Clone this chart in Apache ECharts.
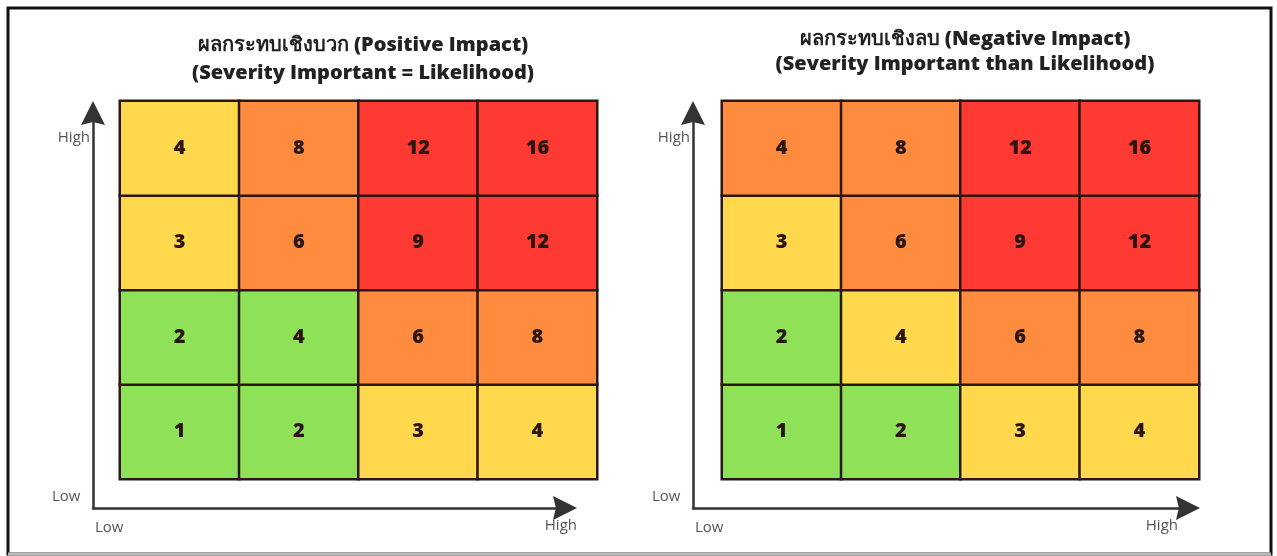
<!DOCTYPE html>
<html>
<head>
<meta charset="utf-8">
<script src="https://cdn.jsdelivr.net/npm/echarts@6/dist/echarts.min.js"></script>
<style>html,body{margin:0;padding:0;background:#fff}#c{width:1277px;height:556px}</style>
</head>
<body>
<div id="c"></div>
<script>
// ---- data ----
const likelihoodCats = ['1', '2', '3', '4'];
const severityCats = ['1', '2', '3', '4'];
// rows from bottom (Low severity) to top (High severity)
const positiveScores = [
  [1, 2, 3, 4],
  [2, 4, 6, 8],
  [3, 6, 9, 12],
  [4, 8, 12, 16]
];
const positiveLevels = [
  [0, 0, 1, 1],
  [0, 0, 2, 2],
  [1, 2, 3, 3],
  [1, 2, 3, 3]
];
const negativeScores = [
  [1, 2, 3, 4],
  [2, 4, 6, 8],
  [3, 6, 9, 12],
  [4, 8, 12, 16]
];
const negativeLevels = [
  [0, 0, 1, 1],
  [0, 1, 2, 2],
  [1, 2, 3, 3],
  [2, 2, 3, 3]
];
const levelColors = ['#8fe158', '#ffd84e', '#ff8b3f', '#ff3a32'];
const titlePositive = 'ผลกระทบเชิงบวก (Positive Impact)\n(Severity Important = Likelihood)';
const titleNegative = 'ผลกระทบเชิงลบ (Negative Impact)\n(Severity Important than Likelihood)';
const axisLow = 'Low';
const axisHigh = 'High';

function build(scores, levels) {
  const out = [];
  for (let y = 0; y < scores.length; y++)
    for (let x = 0; x < scores[y].length; x++)
      out.push([x, y, scores[y][x], levels[y][x]]);
  return out;
}

const chart = echarts.init(document.getElementById('c'));
const FONT = '"Open Sans", "Noto Sans", sans-serif';
const pieces = levelColors.map((c, i) => ({ value: i, color: c }));

const cellStyle = { borderColor: '#2a1712', borderWidth: 2.5 };
const cellLabel = {
  show: true, fontSize: 20, fontWeight: 800, color: '#2a1510', fontFamily: FONT,
  formatter: p => p.value[2]
};
const arrowAxisLine = {
  show: true, symbol: ['none', 'path://M50,0 L100,100 L50,88 L0,100 Z'], symbolSize: [27, 24],
  lineStyle: { color: '#333', width: 2.5 }
};
const hiddenCat = (data, gi) => ({ type: 'category', data, gridIndex: gi, show: false });
const arrowAxis = gi => ({
  type: 'value', min: 0, max: 1, gridIndex: gi,
  axisLine: arrowAxisLine, axisTick: { show: false }, axisLabel: { show: false }, splitLine: { show: false }
});
const lbl = (x, y, text, align) => ({
  type: 'text', x, y, style: { text, fill: '#555', font: '15px ' + FONT, textAlign: align, textVerticalAlign: 'middle' }
});
const titleStyle = lh => ({ fontSize: 20, fontWeight: 800, color: '#222', lineHeight: lh, fontFamily: FONT });

chart.setOption({
  backgroundColor: '#fff',
  animation: false,
  title: [
    { text: titlePositive, left: 358, top: 26, textAlign: 'center', textStyle: titleStyle(28) },
    { text: titleNegative, left: 960, top: 22, textAlign: 'center', textStyle: titleStyle(25) }
  ],
  grid: [
    { left: 120, right: 680, top: 101, bottom: 77 },
    { left: 722, right: 78, top: 101, bottom: 77 },
    { left: 93, right: 712, top: 113, bottom: 48 },
    { left: 693, right: 89, top: 113, bottom: 48 }
  ],
  xAxis: [
    hiddenCat(likelihoodCats, 0), hiddenCat(likelihoodCats, 1),
    arrowAxis(2), arrowAxis(3)
  ],
  yAxis: [
    hiddenCat(severityCats, 0), hiddenCat(severityCats, 1),
    arrowAxis(2), arrowAxis(3)
  ],
  visualMap: [
    { type: 'piecewise', show: false, dimension: 3, seriesIndex: 0, pieces },
    { type: 'piecewise', show: false, dimension: 3, seriesIndex: 1, pieces }
  ],
  series: [
    { type: 'heatmap', xAxisIndex: 0, yAxisIndex: 0, data: build(positiveScores, positiveLevels),
      itemStyle: cellStyle, label: cellLabel, emphasis: { disabled: true } },
    { type: 'heatmap', xAxisIndex: 1, yAxisIndex: 1, data: build(negativeScores, negativeLevels),
      itemStyle: cellStyle, label: cellLabel, emphasis: { disabled: true } }
  ],
  graphic: [
    { type: 'rect', shape: { x: 8, y: 8, width: 1263, height: 546 }, style: { fill: 'none', stroke: '#111', lineWidth: 3 }, z: 100 },
    { type: 'line', shape: { x1: 8, y1: 554, x2: 1271, y2: 554 }, style: { stroke: '#bbb', lineWidth: 3 }, z: 101 },
    lbl(90, 138, axisHigh, 'right'),
    lbl(52, 497, axisLow, 'left'),
    lbl(95, 528, axisLow, 'left'),
    lbl(577, 526, axisHigh, 'right'),
    lbl(690, 138, axisHigh, 'right'),
    lbl(652, 497, axisLow, 'left'),
    lbl(695, 528, axisLow, 'left'),
    lbl(1178, 526, axisHigh, 'right')
  ]
});
</script>
</body>
</html>
